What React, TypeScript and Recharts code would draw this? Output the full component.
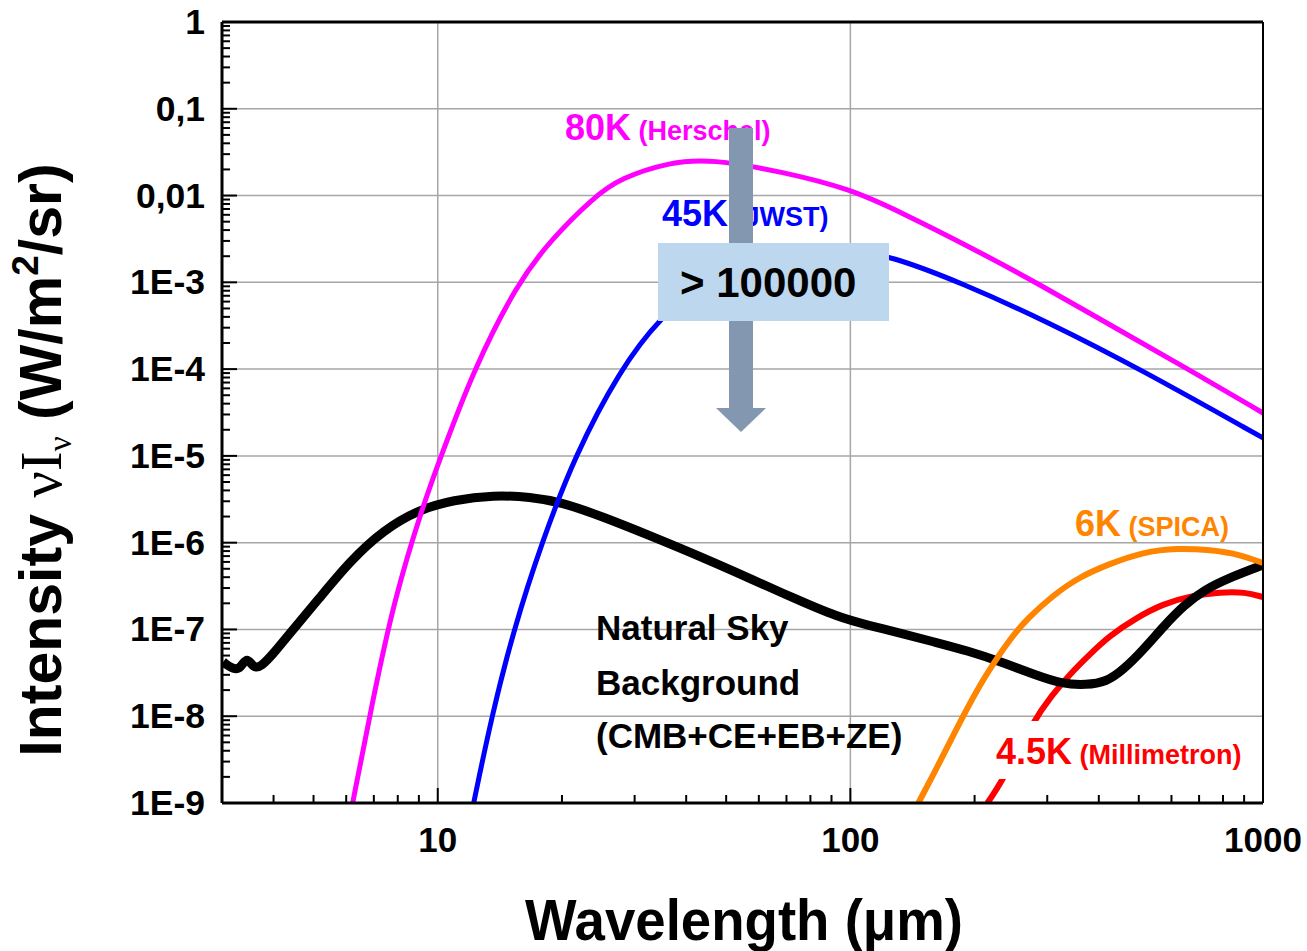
import React from 'react';
import { LineChart, Line, XAxis, YAxis, CartesianGrid, ReferenceLine } from 'recharts';

// wavelength (um) / intensity (W/m2/sr)
const wl80 = [6.22, 6.96, 7.83, 9.25, 10.17, 12.2, 15.6, 18.8, 23.9, 27.7, 36.7, 45.8, 68.9, 100, 132, 195, 284, 443, 677, 1000];
const int80 = [1e-9, 1.54e-8, 2.18e-7, 2.87e-6, 9.7e-6, 9.8e-5, 9.8e-4, 3.1e-3, 9.6e-3, 1.59e-2, 2.44e-2, 2.64e-2, 1.87e-2, 1.19e-2, 6.47e-3, 2.55e-3, 9.8e-4, 2.9e-4, 9.27e-5, 3.12e-5];

const wl45 = [12.22, 13.51, 15.28, 17.86, 21.47, 27.7, 34.7, 43.4, 54.2, 67.7, 81.8, 100, 125, 185, 305, 504, 1000];
const int45 = [1e-9, 1e-8, 1e-7, 1e-6, 1e-5, 1e-4, 3.99e-4, 9.3e-4, 1.71e-3, 2.36e-3, 2.62e-3, 2.42e-3, 2.01e-3, 1e-3, 3.4e-4, 1e-4, 1.61e-5];

const wl6 = [146.1, 159.7, 174.7, 192, 211.2, 245.3, 269.8, 308.4, 358.5, 423.8, 512.3, 619.4, 748.4, 869.9, 1000];
const int6 = [1e-9, 2.22e-9, 5.19e-9, 1.24e-8, 2.83e-8, 8.19e-8, 1.36e-7, 2.43e-7, 4.02e-7, 5.68e-7, 7.81e-7, 8.69e-7, 8.24e-7, 7.4e-7, 5.83e-7];

const wl45k = [214.7, 232.1, 277.4, 308.4, 339.1, 379, 423.8, 492.6, 572.6, 665.8, 791.2, 904.4, 1000];
const int45k = [1e-9, 1.7e-9, 8.81e-9, 1.76e-8, 2.99e-8, 5.08e-8, 8.41e-8, 1.36e-7, 1.97e-7, 2.43e-7, 2.7e-7, 2.7e-7, 2.36e-7];

const wlSky = [3.02, 3.21, 3.33, 3.45, 3.57, 3.73, 4.01, 4.41, 5.12, 6.16, 7.4, 8.95, 10.93, 13.67, 16.8, 19.86, 25.2, 33.3, 44.1, 58.2, 72.8, 93, 111.8, 132.1, 159.7, 193.1, 232.1, 280.5, 326.1, 372.8, 416.8, 458.1, 512.3, 572.6, 643.9, 719.6, 836.6, 1000];
const intSky = [4.22e-8, 3.41e-8, 3.6e-8, 4.9e-8, 3.6e-8, 3.69e-8, 5.36e-8, 9.35e-8, 2.18e-7, 6.31e-7, 1.4e-6, 2.38e-6, 3.11e-6, 3.54e-6, 3.36e-6, 2.94e-6, 1.98e-6, 1.16e-6, 6.66e-7, 3.71e-7, 2.3e-7, 1.39e-7, 1.1e-7, 9.1e-8, 7.17e-8, 5.65e-8, 4.22e-8, 2.99e-8, 2.35e-8, 2.29e-8, 2.48e-8, 3.41e-8, 5.8e-8, 1.07e-7, 1.91e-7, 2.85e-7, 4.02e-7, 5.53e-7];

const yDecades = [1e-9, 1e-8, 1e-7, 1e-6, 1e-5, 1e-4, 1e-3, 1e-2, 1e-1, 1];
const yLabels = ['1E-9', '1E-8', '1E-7', '1E-6', '1E-5', '1E-4', '1E-3', '0,01', '0,1', '1'];
const xDecades = [10, 100, 1000];
const xLabels = ['10', '100', '1000'];

const zip = (xs: number[], ys: number[]) => xs.map((x, i) => ({ x, y: ys[i] }));

const MULT = [1, 2, 3, 4, 5, 6, 7, 8, 9];
const yTicks = yDecades.flatMap((d, i) => (i === yDecades.length - 1 ? [d] : MULT.map((m) => m * d)));
const xTicks = [3, 4, 5, 6, 7, 8, 9, ...[1, 10, 100].flatMap((d) => MULT.map((m) => m * 10 * d)), 1000].filter(
  (v, i, a) => a.indexOf(v) === i
);

const FONT = '"Liberation Sans", Arial, sans-serif';
const SERIF = '"Liberation Serif", "Times New Roman", serif';

const findIdx = (arr: number[], v: number) => arr.findIndex((d) => Math.abs(d - v) / d < 1e-6);

function YTick(props: any) {
  const { x, y, payload } = props;
  const idx = findIdx(yDecades, payload.value);
  const major = idx >= 0;
  return (
    <g>
      <line x1={x} x2={x + (major ? 15 : 8)} y1={y} y2={y} stroke="#000" strokeWidth={2} />
      {major && (
        <text x={x - 17} y={y + 12} textAnchor="end" fontFamily={FONT} fontWeight="bold" fontSize={35.5} fill="#000">
          {yLabels[idx]}
        </text>
      )}
    </g>
  );
}

function XTick(props: any) {
  const { x, y, payload } = props;
  const idx = findIdx(xDecades, payload.value);
  const major = idx >= 0;
  return (
    <g>
      <line x1={x} x2={x} y1={y} y2={y - (major ? 15 : 8)} stroke="#000" strokeWidth={2} />
      {major && (
        <text x={x} y={y + 49} textAnchor="middle" fontFamily={FONT} fontWeight="bold" fontSize={35} fill="#000">
          {xLabels[idx]}
        </text>
      )}
    </g>
  );
}

function Overlay() {
  return (
    <svg width={1307} height={951} style={{ position: 'absolute', left: 0, top: 0, pointerEvents: 'none' }}>
      {/* axis titles */}
      <text transform="translate(61,460) rotate(-90)" textAnchor="middle" fontFamily={FONT} fontWeight="bold" fontSize={59} fill="#000">
        {'Intensity '}
        <tspan fontFamily={SERIF} fontWeight="normal">νI</tspan>
        <tspan fontFamily={SERIF} fontWeight="normal" fontSize={33} dy={10}>ν</tspan>
        <tspan dy={-10}>{' (W/m'}</tspan>
        <tspan fontSize={37} dy={-23}>2</tspan>
        <tspan dy={23}>/sr)</tspan>
      </text>
      <text x={744} y={940} textAnchor="middle" fontFamily={FONT} fontWeight="bold" fontSize={57} textLength={438} lengthAdjust="spacingAndGlyphs" fill="#000">
        Wavelength (μm)
      </text>

      {/* curve labels */}
      <text x={565} y={140} fontFamily={FONT} fontWeight="bold" fill="#FF00FF">
        <tspan fontSize={36}>80K</tspan>
        <tspan fontSize={27}>{' (Herschel)'}</tspan>
      </text>
      <text x={662} y={226} fontFamily={FONT} fontWeight="bold" fill="#0000FF">
        <tspan fontSize={36}>45K</tspan>
        <tspan fontSize={27}>{' (JWST)'}</tspan>
      </text>
      <text x={1075} y={536} fontFamily={FONT} fontWeight="bold" fill="#FF8500">
        <tspan fontSize={36}>6K</tspan>
        <tspan fontSize={27}>{' (SPICA)'}</tspan>
      </text>
      <rect x={988} y={721} width={258} height={58} fill="#fff" />
      <text x={996} y={764} fontFamily={FONT} fontWeight="bold" fill="#FF0000">
        <tspan fontSize={36}>4.5K</tspan>
        <tspan fontSize={27}>{' (Millimetron)'}</tspan>
      </text>
      <g fontFamily={FONT} fontWeight="bold" fontSize={35} fill="#000">
        <text x={596} y={640}>Natural Sky</text>
        <text x={596} y={695}>Background</text>
        <text x={596} y={748}>(CMB+CE+EB+ZE)</text>
      </g>

      {/* arrow and box */}
      <rect x={729} y={128} width={24} height={281} fill="#8497B0" />
      <polygon points="716,408 766,408 741,432" fill="#8497B0" />
      <rect x={658} y={243} width={231} height={78} fill="#BDD7EE" />
      <text x={680} y={297} fontFamily={FONT} fontWeight="bold" fontSize={42} fill="#000">
        {'> 100000'}
      </text>
    </svg>
  );
}

export default function App() {
  return (
    <div style={{ position: 'absolute', left: 0, top: 0, width: 1307, height: 951, background: '#fff' }}>
      <LineChart width={1307} height={951} margin={{ top: 22, right: 44, bottom: 0, left: 0 }}>
        <CartesianGrid
          stroke="#A6A6A6"
          strokeWidth={1.5}
          horizontalValues={yDecades.slice(1, -1)}
          verticalValues={[10, 100]}
        />
        <XAxis
          dataKey="x"
          type="number"
          scale="log"
          domain={[3, 1000]}
          allowDataOverflow
          ticks={xTicks}
          interval={0}
          tickSize={0}
          tickMargin={0}
          tick={(p: any) => <XTick {...p} />}
          axisLine={{ stroke: '#000', strokeWidth: 3 }}
          height={148}
        />
        <YAxis
          dataKey="y"
          type="number"
          scale="log"
          domain={[1e-9, 1]}
          allowDataOverflow
          ticks={yTicks}
          interval={0}
          tickSize={0}
          tickMargin={0}
          tick={(p: any) => <YTick {...p} />}
          axisLine={{ stroke: '#000', strokeWidth: 3 }}
          width={222}
        />
        <Line data={zip(wl45k, int45k)} dataKey="y" type="basis" stroke="#FF0000" strokeWidth={6} dot={false} isAnimationActive={false} />
        <Line data={zip(wlSky, intSky)} dataKey="y" type="basis" stroke="#000000" strokeWidth={9} dot={false} isAnimationActive={false} />
        <Line data={zip(wl80, int80)} dataKey="y" type="basis" stroke="#FF00FF" strokeWidth={5} dot={false} isAnimationActive={false} />
        <Line data={zip(wl45, int45)} dataKey="y" type="basis" stroke="#0000FF" strokeWidth={5} dot={false} isAnimationActive={false} />
        <Line data={zip(wl6, int6)} dataKey="y" type="basis" stroke="#FF8500" strokeWidth={6} dot={false} isAnimationActive={false} />
        <ReferenceLine y={1} stroke="#000" strokeWidth={3} />
        <ReferenceLine x={1000} stroke="#000" strokeWidth={2} />
      </LineChart>
      <Overlay />
    </div>
  );
}
